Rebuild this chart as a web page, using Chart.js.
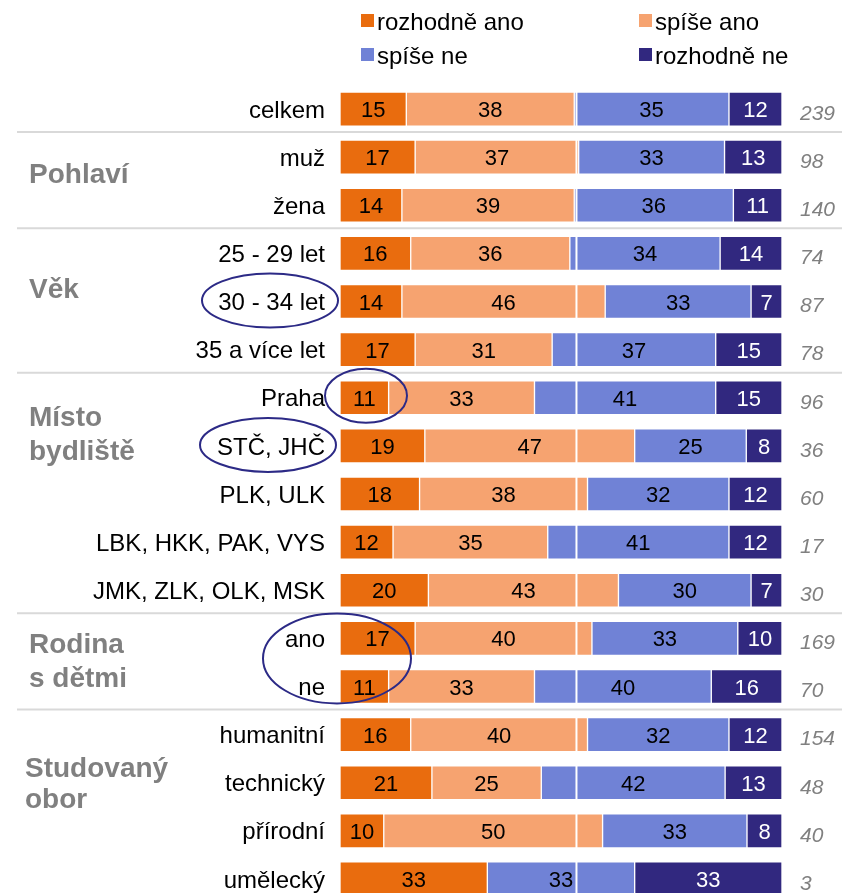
<!DOCTYPE html>
<html lang="cs">
<head>
<meta charset="utf-8">
<title>Rozložení odpovědí podle skupin</title>
<script src="https://cdn.jsdelivr.net/npm/chart.js@4/dist/chart.umd.min.js"></script>
<style>
  html, body { margin: 0; padding: 0; background: #fff; overflow: hidden; }
  #wrap { width: 842px; height: 933px; }
</style>
</head>
<body>
<div id="wrap"><canvas id="chart" width="842" height="933"></canvas></div>
<script>
const categories = ['celkem', 'muž', 'žena', '25 - 29 let', '30 - 34 let', '35 a více let',
  'Praha', 'STČ, JHČ', 'PLK, ULK', 'LBK, HKK, PAK, VYS', 'JMK, ZLK, OLK, MSK',
  'ano', 'ne', 'humanitní', 'technický', 'přírodní', 'umělecký'];
const seriesNames = ['rozhodně ano', 'spíše ano', 'spíše ne', 'rozhodně ne'];
const definitelyYes = [15, 17, 14, 16, 14, 17, 11, 19, 18, 12, 20, 17, 11, 16, 21, 10, 33];
const ratherYes     = [38, 37, 39, 36, 46, 31, 33, 47, 38, 35, 43, 40, 33, 40, 25, 50, 0];
const ratherNo      = [35, 33, 36, 34, 33, 37, 41, 25, 32, 41, 30, 33, 40, 32, 42, 33, 33];
const definitelyNo  = [12, 13, 11, 14, 7, 15, 15, 8, 12, 12, 7, 10, 16, 12, 13, 8, 33];
const respondents   = [239, 98, 140, 74, 87, 78, 96, 36, 60, 17, 30, 169, 70, 154, 48, 40, 3];
const groupNames = [['Pohlaví'], ['Věk'], ['Místo', 'bydliště'], ['Rodina', 's dětmi'], ['Studovaný', 'obor']];
const groupBreaks = [0, 2, 5, 10, 12]; // separator after these rows
const referenceShare = 53.5;

const colors = ['#E96C0E', '#F6A370', '#7082D6', '#31287F'];
const font = '"Liberation Sans", Arial, sans-serif';

// label positions in row units, and circled rows
const groupPos = [[1.54], [3.93], [6.59, 7.29], [11.30, 12.01], [13.88, 14.52]];
const groupX = [29, 29, 29, 29, 25];
const circles = [
  { row: 4, dy: -1, cx: -70, rx: 68, ry: 27 },
  { row: 6, dy: -2, cx: 26, rx: 41, ry: 27 },
  { row: 7, dy: -1, cx: -72, rx: 68, ry: 27 },
  { row: 11.5, dy: -4, cx: -3, rx: 74, ry: 45 }
];

const rawSeries = [definitelyYes, ratherYes, ratherNo, definitelyNo];
const rowSums = categories.map((c, i) => rawSeries.reduce((acc, s) => acc + s[i], 0));

const datasets = rawSeries.map((s, di) => ({
  label: seriesNames[di],
  data: s.map((v, i) => v * 100 / rowSums[i]),
  raw: s,
  backgroundColor: colors[di],
  borderColor: 'rgba(255,255,255,0.35)',
  borderWidth: 1,
  borderSkipped: false,
  barThickness: 34
}));

const overlay = {
  id: 'overlay',
  afterDatasetsDraw(chart) {
    const { ctx, chartArea, scales: { x } } = chart;
    const band = (chartArea.bottom - chartArea.top) / categories.length;
    const rowY = (pos) => chartArea.top + (pos + 0.5) * band;
    ctx.save();

    // white reference line
    const refX = x.getPixelForValue(referenceShare);
    ctx.strokeStyle = '#ffffff';
    ctx.lineWidth = 2;
    ctx.beginPath();
    ctx.moveTo(refX, chartArea.top);
    ctx.lineTo(refX, chartArea.bottom);
    ctx.stroke();

    // group separators
    ctx.strokeStyle = '#d9d9d9';
    groupBreaks.forEach((i) => {
      const yy = rowY(i + 0.5) - 1;
      ctx.beginPath();
      ctx.moveTo(17, yy);
      ctx.lineTo(chart.width, yy);
      ctx.stroke();
    });

    // values inside bars
    ctx.font = '22px ' + font;
    ctx.textAlign = 'center';
    ctx.textBaseline = 'middle';
    chart.data.datasets.forEach((ds, di) => {
      chart.getDatasetMeta(di).data.forEach((bar, i) => {
        const v = ds.raw[i];
        if (!v) return;
        const c = bar.getCenterPoint();
        ctx.fillStyle = di === 3 ? '#ffffff' : '#000000';
        ctx.fillText(v, c.x, c.y + 2);
      });
    });

    // respondents
    ctx.font = 'italic 21px ' + font;
    ctx.textAlign = 'left';
    ctx.fillStyle = '#808080';
    respondents.forEach((n, i) => {
      ctx.fillText(n, chartArea.right + 18, rowY(i) + 5);
    });

    // group names
    ctx.font = 'bold 28px ' + font;
    ctx.textBaseline = 'alphabetic';
    groupNames.forEach((lines, g) => {
      lines.forEach((t, li) => ctx.fillText(t, groupX[g], rowY(groupPos[g][li])));
    });

    // circles
    ctx.strokeStyle = '#2C2A86';
    ctx.lineWidth = 2;
    circles.forEach((c) => {
      ctx.beginPath();
      ctx.ellipse(chartArea.left + c.cx, rowY(c.row) + c.dy, c.rx, c.ry, 0, 0, Math.PI * 2);
      ctx.stroke();
    });

    // legend
    const legendPos = [[361, 14], [639, 14], [361, 48], [639, 48]];
    ctx.font = '24px ' + font;
    seriesNames.forEach((name, i) => {
      const [lx, ly] = legendPos[i];
      ctx.fillStyle = colors[i];
      ctx.fillRect(lx, ly, 13, 13);
      ctx.fillStyle = '#000000';
      ctx.fillText(name, lx + 16, ly + 16);
    });

    ctx.restore();
  }
};

new Chart(document.getElementById('chart'), {
  type: 'bar',
  data: { labels: categories, datasets: datasets },
  options: {
    indexAxis: 'y',
    responsive: false,
    animation: false,
    layout: { padding: { top: 85, right: 60, bottom: 30, left: 0 } },
    plugins: { legend: { display: false }, tooltip: { enabled: false } },
    scales: {
      x: { stacked: true, min: 0, max: 100, display: false },
      y: {
        stacked: true,
        grid: { display: false, drawTicks: false },
        border: { display: false },
        ticks: { autoSkip: false, padding: 15, labelOffset: 2, color: '#000000', font: { family: font, size: 24 } },
        afterFit: (scale) => { scale.width = 340; }
      }
    }
  },
  plugins: [overlay]
});
</script>
</body>
</html>
